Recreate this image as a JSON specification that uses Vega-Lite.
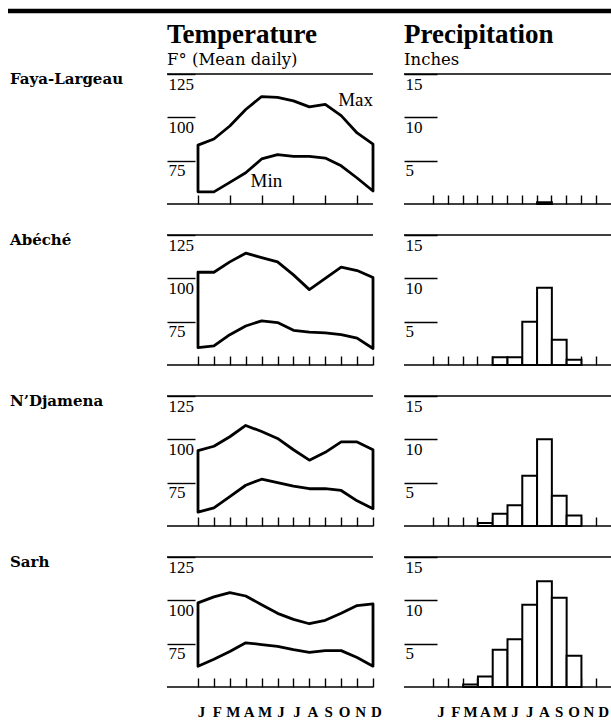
{
  "$schema": "https://vega.github.io/schema/vega-lite/v6.json",
  "padding": {"left": 5, "top": 8, "right": 0, "bottom": 0},
  "background": "white",
  "config": {
    "view": {"stroke": null},
    "font": "Liberation Serif",
    "axis": {"domain": false, "grid": false, "tickColor": "black", "tickWidth": 1.4, "labelColor": "black", "labelFont": "Liberation Serif", "labelFontSize": 17}
  },
  "datasets": {
    "temp": [
      {"station": "Faya-Largeau", "month": 1, "max": 84, "min": 57},
      {"station": "Faya-Largeau", "month": 2, "max": 87.5, "min": 57},
      {"station": "Faya-Largeau", "month": 3, "max": 95, "min": 62.5},
      {"station": "Faya-Largeau", "month": 4, "max": 104.5, "min": 68},
      {"station": "Faya-Largeau", "month": 5, "max": 112, "min": 76},
      {"station": "Faya-Largeau", "month": 6, "max": 111.5, "min": 78.5},
      {"station": "Faya-Largeau", "month": 7, "max": 109.5, "min": 77.5},
      {"station": "Faya-Largeau", "month": 8, "max": 106, "min": 77.5},
      {"station": "Faya-Largeau", "month": 9, "max": 107.5, "min": 76.5},
      {"station": "Faya-Largeau", "month": 10, "max": 101, "min": 72},
      {"station": "Faya-Largeau", "month": 11, "max": 91, "min": 65},
      {"station": "Faya-Largeau", "month": 12, "max": 84.5, "min": 57.5},
      {"station": "Abéché", "month": 1, "max": 103.5, "min": 60},
      {"station": "Abéché", "month": 2, "max": 103.5, "min": 61},
      {"station": "Abéché", "month": 3, "max": 109.5, "min": 67.5},
      {"station": "Abéché", "month": 4, "max": 114.5, "min": 72.5},
      {"station": "Abéché", "month": 5, "max": 112, "min": 75.5},
      {"station": "Abéché", "month": 6, "max": 109.5, "min": 74.5},
      {"station": "Abéché", "month": 7, "max": 102, "min": 70},
      {"station": "Abéché", "month": 8, "max": 93.5, "min": 69},
      {"station": "Abéché", "month": 9, "max": 100, "min": 68.5},
      {"station": "Abéché", "month": 10, "max": 106.5, "min": 67.5},
      {"station": "Abéché", "month": 11, "max": 104.5, "min": 65.5},
      {"station": "Abéché", "month": 12, "max": 100.5, "min": 59.5},
      {"station": "N’Djamena", "month": 1, "max": 93.5, "min": 58},
      {"station": "N’Djamena", "month": 2, "max": 96, "min": 60.5},
      {"station": "N’Djamena", "month": 3, "max": 101.5, "min": 67},
      {"station": "N’Djamena", "month": 4, "max": 108, "min": 73.5},
      {"station": "N’Djamena", "month": 5, "max": 104.5, "min": 77},
      {"station": "N’Djamena", "month": 6, "max": 100.5, "min": 75},
      {"station": "N’Djamena", "month": 7, "max": 94, "min": 73},
      {"station": "N’Djamena", "month": 8, "max": 88, "min": 71.5},
      {"station": "N’Djamena", "month": 9, "max": 92.5, "min": 71.5},
      {"station": "N’Djamena", "month": 10, "max": 98.5, "min": 70.5},
      {"station": "N’Djamena", "month": 11, "max": 98.5, "min": 64.5},
      {"station": "N’Djamena", "month": 12, "max": 94, "min": 60},
      {"station": "Sarh", "month": 1, "max": 98.5, "min": 62},
      {"station": "Sarh", "month": 2, "max": 102, "min": 66},
      {"station": "Sarh", "month": 3, "max": 104.5, "min": 70.5},
      {"station": "Sarh", "month": 4, "max": 102.5, "min": 75.5},
      {"station": "Sarh", "month": 5, "max": 97.5, "min": 74.5},
      {"station": "Sarh", "month": 6, "max": 92.5, "min": 73.5},
      {"station": "Sarh", "month": 7, "max": 89, "min": 71.5},
      {"station": "Sarh", "month": 8, "max": 86.5, "min": 70},
      {"station": "Sarh", "month": 9, "max": 88.5, "min": 71},
      {"station": "Sarh", "month": 10, "max": 92.5, "min": 71},
      {"station": "Sarh", "month": 11, "max": 97, "min": 67},
      {"station": "Sarh", "month": 12, "max": 98, "min": 62}
    ],
    "precip": [
      {"station": "Faya-Largeau", "month": "Aug", "inches": 0.2},
      {"station": "Abéché", "month": "May", "inches": 0.9},
      {"station": "Abéché", "month": "Jun", "inches": 0.9},
      {"station": "Abéché", "month": "Jul", "inches": 5.0},
      {"station": "Abéché", "month": "Aug", "inches": 8.9},
      {"station": "Abéché", "month": "Sep", "inches": 2.9},
      {"station": "Abéché", "month": "Oct", "inches": 0.6},
      {"station": "N’Djamena", "month": "Apr", "inches": 0.35},
      {"station": "N’Djamena", "month": "May", "inches": 1.4},
      {"station": "N’Djamena", "month": "Jun", "inches": 2.4},
      {"station": "N’Djamena", "month": "Jul", "inches": 5.8},
      {"station": "N’Djamena", "month": "Aug", "inches": 10.0},
      {"station": "N’Djamena", "month": "Sep", "inches": 3.5},
      {"station": "N’Djamena", "month": "Oct", "inches": 1.2},
      {"station": "Sarh", "month": "Mar", "inches": 0.3},
      {"station": "Sarh", "month": "Apr", "inches": 1.2},
      {"station": "Sarh", "month": "May", "inches": 4.3},
      {"station": "Sarh", "month": "Jun", "inches": 5.5},
      {"station": "Sarh", "month": "Jul", "inches": 9.5},
      {"station": "Sarh", "month": "Aug", "inches": 12.2},
      {"station": "Sarh", "month": "Sep", "inches": 10.3},
      {"station": "Sarh", "month": "Oct", "inches": 3.6}
    ]
  },
  "spacing": 6,
  "vconcat": [
    {
      "width": 606, "height": 4,
      "data": {"values": [{}]},
      "mark": {"type": "rule", "color": "black", "strokeWidth": 4.5},
      "encoding": {"y": {"datum": 0.5, "type": "quantitative", "scale": {"domain": [0, 1]}, "axis": null}}
    },
    {
      "columns": 3,
      "spacing": {"row": 31, "column": 31},
      "bounds": "flush",
      "concat": [
        {
          "width": 128, "height": 130,
          "data": {"values": [{"station": "Faya-Largeau"}]},
          "mark": {"type": "text", "align": "left", "baseline": "middle", "dx": 2, "font": "DejaVu Serif", "fontWeight": "bold", "fontSize": 15, "color": "black"},
          "encoding": {
            "text": {"field": "station"},
            "x": {"datum": 0, "type": "quantitative", "scale": {"domain": [0, 1]}, "axis": null},
            "y": {"datum": 122.3, "type": "quantitative", "scale": {"domain": [50, 125]}, "axis": null}
          }
        },
        {
          "width": 206, "height": 130,
          "title": {"text": "Temperature", "subtitle": "F° (Mean daily)", "anchor": "start", "frame": "group", "font": "Liberation Serif", "fontSize": 27, "fontWeight": "bold", "color": "black", "subtitleFont": "DejaVu Serif", "subtitleFontSize": 16.5, "subtitleColor": "black", "subtitlePadding": 3, "offset": 4},
          "layer": [
            {
              "data": {"name": "temp"},
              "transform": [{"filter": "datum.station === 'Faya-Largeau'"}],
              "mark": {"type": "area", "fill": "white", "stroke": "black", "strokeWidth": 2.8, "strokeJoin": "round"},
              "encoding": {
                "x": {"field": "month", "type": "quantitative", "scale": {"domain": [-0.949, 12], "nice": false, "zero": false},
                  "axis": {"values": [1,2,3,4,5,6,7,8,9,10,11,12], "tickSize": -9, "labels": false, "title": null}},
                "y": {"field": "max", "type": "quantitative", "scale": {"domain": [50, 125], "nice": false, "zero": false},
                  "axis": {"values": [125, 100, 75], "tickSize": -28, "labelAlign": "left", "labelBaseline": "top", "labelPadding": 27, "labelOffset": 2, "labelFlush": false, "labelOverlap": false, "title": null}},
                "y2": {"field": "min"}
              }
            },
            {"data": {"values": [{}]}, "mark": {"type": "rule", "color": "black", "strokeWidth": 1.5}, "encoding": {"y": {"datum": 125, "type": "quantitative"}}},
            {"data": {"values": [{}]}, "mark": {"type": "rule", "color": "black", "strokeWidth": 1.5}, "encoding": {"y": {"datum": 50, "type": "quantitative"}}},
            {"data": {"values": [{}]}, "mark": {"type": "text", "align": "right", "baseline": "middle", "font": "Liberation Serif", "fontSize": 19, "color": "black"}, "encoding": {"x": {"datum": 12, "type": "quantitative"}, "y": {"datum": 110, "type": "quantitative"}, "text": {"value": "Max"}}},
            {"data": {"values": [{}]}, "mark": {"type": "text", "align": "center", "baseline": "middle", "font": "Liberation Serif", "fontSize": 19, "color": "black"}, "encoding": {"x": {"datum": 5.3, "type": "quantitative"}, "y": {"datum": 63.3, "type": "quantitative"}, "text": {"value": "Min"}}}
          ]
        },
        {
          "width": 207, "height": 130,
          "title": {"text": "Precipitation", "subtitle": "Inches", "anchor": "start", "frame": "group", "font": "Liberation Serif", "fontSize": 27, "fontWeight": "bold", "color": "black", "subtitleFont": "DejaVu Serif", "subtitleFontSize": 16.5, "subtitleColor": "black", "subtitlePadding": 3, "offset": 4},
          "layer": [
            {
              "data": {"name": "precip"},
              "transform": [{"filter": "datum.station === 'Faya-Largeau'"}],
              "mark": {"type": "bar", "fill": "white", "stroke": "black", "strokeWidth": 2},
              "encoding": {
                "x": {"field": "month", "type": "ordinal", "scale": {"domain": ["Jan","Feb","Mar","Apr","May","Jun","Jul","Aug","Sep","Oct","Nov","Dec"], "paddingInner": 0, "paddingOuter": 1.097, "align": 1},
                  "axis": {"bandPosition": 0, "tickSize": -9, "labels": false, "title": null}},
                "y": {"field": "inches", "type": "quantitative", "scale": {"domain": [0, 15], "nice": false},
                  "axis": {"values": [15, 10, 5], "tickSize": -33, "labelAlign": "left", "labelBaseline": "top", "labelPadding": 32, "labelOffset": 2, "labelFlush": false, "labelOverlap": false, "title": null}}
              }
            },
            {"data": {"values": [{}]}, "mark": {"type": "rule", "color": "black", "strokeWidth": 1.5}, "encoding": {"y": {"datum": 15, "type": "quantitative"}}},
            {"data": {"values": [{}]}, "mark": {"type": "rule", "color": "black", "strokeWidth": 1.5}, "encoding": {"y": {"datum": 0, "type": "quantitative"}}}
          ]
        },
        {
          "width": 128, "height": 130,
          "data": {"values": [{"station": "Abéché"}]},
          "mark": {"type": "text", "align": "left", "baseline": "middle", "dx": 2, "font": "DejaVu Serif", "fontWeight": "bold", "fontSize": 15, "color": "black"},
          "encoding": {
            "text": {"field": "station"},
            "x": {"datum": 0, "type": "quantitative", "scale": {"domain": [0, 1]}, "axis": null},
            "y": {"datum": 122.3, "type": "quantitative", "scale": {"domain": [50, 125]}, "axis": null}
          }
        },
        {
          "width": 206, "height": 130,
          "layer": [
            {
              "data": {"name": "temp"},
              "transform": [{"filter": "datum.station === 'Abéché'"}],
              "mark": {"type": "area", "fill": "white", "stroke": "black", "strokeWidth": 2.8, "strokeJoin": "round"},
              "encoding": {
                "x": {"field": "month", "type": "quantitative", "scale": {"domain": [-0.949, 12], "nice": false, "zero": false},
                  "axis": {"values": [1,2,3,4,5,6,7,8,9,10,11,12], "tickSize": -9, "labels": false, "title": null}},
                "y": {"field": "max", "type": "quantitative", "scale": {"domain": [50, 125], "nice": false, "zero": false},
                  "axis": {"values": [125, 100, 75], "tickSize": -28, "labelAlign": "left", "labelBaseline": "top", "labelPadding": 27, "labelOffset": 2, "labelFlush": false, "labelOverlap": false, "title": null}},
                "y2": {"field": "min"}
              }
            },
            {"data": {"values": [{}]}, "mark": {"type": "rule", "color": "black", "strokeWidth": 1.5}, "encoding": {"y": {"datum": 125, "type": "quantitative"}}},
            {"data": {"values": [{}]}, "mark": {"type": "rule", "color": "black", "strokeWidth": 1.5}, "encoding": {"y": {"datum": 50, "type": "quantitative"}}}
          ]
        },
        {
          "width": 207, "height": 130,
          "layer": [
            {
              "data": {"name": "precip"},
              "transform": [{"filter": "datum.station === 'Abéché'"}],
              "mark": {"type": "bar", "fill": "white", "stroke": "black", "strokeWidth": 2},
              "encoding": {
                "x": {"field": "month", "type": "ordinal", "scale": {"domain": ["Jan","Feb","Mar","Apr","May","Jun","Jul","Aug","Sep","Oct","Nov","Dec"], "paddingInner": 0, "paddingOuter": 1.097, "align": 1},
                  "axis": {"bandPosition": 0, "tickSize": -9, "labels": false, "title": null}},
                "y": {"field": "inches", "type": "quantitative", "scale": {"domain": [0, 15], "nice": false},
                  "axis": {"values": [15, 10, 5], "tickSize": -33, "labelAlign": "left", "labelBaseline": "top", "labelPadding": 32, "labelOffset": 2, "labelFlush": false, "labelOverlap": false, "title": null}}
              }
            },
            {"data": {"values": [{}]}, "mark": {"type": "rule", "color": "black", "strokeWidth": 1.5}, "encoding": {"y": {"datum": 15, "type": "quantitative"}}},
            {"data": {"values": [{}]}, "mark": {"type": "rule", "color": "black", "strokeWidth": 1.5}, "encoding": {"y": {"datum": 0, "type": "quantitative"}}}
          ]
        },
        {
          "width": 128, "height": 130,
          "data": {"values": [{"station": "N’Djamena"}]},
          "mark": {"type": "text", "align": "left", "baseline": "middle", "dx": 2, "font": "DejaVu Serif", "fontWeight": "bold", "fontSize": 15, "color": "black"},
          "encoding": {
            "text": {"field": "station"},
            "x": {"datum": 0, "type": "quantitative", "scale": {"domain": [0, 1]}, "axis": null},
            "y": {"datum": 122.3, "type": "quantitative", "scale": {"domain": [50, 125]}, "axis": null}
          }
        },
        {
          "width": 206, "height": 130,
          "layer": [
            {
              "data": {"name": "temp"},
              "transform": [{"filter": "datum.station === 'N’Djamena'"}],
              "mark": {"type": "area", "fill": "white", "stroke": "black", "strokeWidth": 2.8, "strokeJoin": "round"},
              "encoding": {
                "x": {"field": "month", "type": "quantitative", "scale": {"domain": [-0.949, 12], "nice": false, "zero": false},
                  "axis": {"values": [1,2,3,4,5,6,7,8,9,10,11,12], "tickSize": -9, "labels": false, "title": null}},
                "y": {"field": "max", "type": "quantitative", "scale": {"domain": [50, 125], "nice": false, "zero": false},
                  "axis": {"values": [125, 100, 75], "tickSize": -28, "labelAlign": "left", "labelBaseline": "top", "labelPadding": 27, "labelOffset": 2, "labelFlush": false, "labelOverlap": false, "title": null}},
                "y2": {"field": "min"}
              }
            },
            {"data": {"values": [{}]}, "mark": {"type": "rule", "color": "black", "strokeWidth": 1.5}, "encoding": {"y": {"datum": 125, "type": "quantitative"}}},
            {"data": {"values": [{}]}, "mark": {"type": "rule", "color": "black", "strokeWidth": 1.5}, "encoding": {"y": {"datum": 50, "type": "quantitative"}}}
          ]
        },
        {
          "width": 207, "height": 130,
          "layer": [
            {
              "data": {"name": "precip"},
              "transform": [{"filter": "datum.station === 'N’Djamena'"}],
              "mark": {"type": "bar", "fill": "white", "stroke": "black", "strokeWidth": 2},
              "encoding": {
                "x": {"field": "month", "type": "ordinal", "scale": {"domain": ["Jan","Feb","Mar","Apr","May","Jun","Jul","Aug","Sep","Oct","Nov","Dec"], "paddingInner": 0, "paddingOuter": 1.097, "align": 1},
                  "axis": {"bandPosition": 0, "tickSize": -9, "labels": false, "title": null}},
                "y": {"field": "inches", "type": "quantitative", "scale": {"domain": [0, 15], "nice": false},
                  "axis": {"values": [15, 10, 5], "tickSize": -33, "labelAlign": "left", "labelBaseline": "top", "labelPadding": 32, "labelOffset": 2, "labelFlush": false, "labelOverlap": false, "title": null}}
              }
            },
            {"data": {"values": [{}]}, "mark": {"type": "rule", "color": "black", "strokeWidth": 1.5}, "encoding": {"y": {"datum": 15, "type": "quantitative"}}},
            {"data": {"values": [{}]}, "mark": {"type": "rule", "color": "black", "strokeWidth": 1.5}, "encoding": {"y": {"datum": 0, "type": "quantitative"}}}
          ]
        },
        {
          "width": 128, "height": 130,
          "data": {"values": [{"station": "Sarh"}]},
          "mark": {"type": "text", "align": "left", "baseline": "middle", "dx": 2, "font": "DejaVu Serif", "fontWeight": "bold", "fontSize": 15, "color": "black"},
          "encoding": {
            "text": {"field": "station"},
            "x": {"datum": 0, "type": "quantitative", "scale": {"domain": [0, 1]}, "axis": null},
            "y": {"datum": 122.3, "type": "quantitative", "scale": {"domain": [50, 125]}, "axis": null}
          }
        },
        {
          "width": 206, "height": 130,
          "layer": [
            {
              "data": {"name": "temp"},
              "transform": [{"filter": "datum.station === 'Sarh'"}],
              "mark": {"type": "area", "fill": "white", "stroke": "black", "strokeWidth": 2.8, "strokeJoin": "round"},
              "encoding": {
                "x": {"field": "month", "type": "quantitative", "scale": {"domain": [-0.949, 12], "nice": false, "zero": false},
                  "axis": {"values": [1,2,3,4,5,6,7,8,9,10,11,12], "tickSize": -9, "labels": true, "labelExpr": "['J','F','M','A','M','J','J','A','S','O','N','D'][datum.value - 1]", "labelFont": "Liberation Serif", "labelFontWeight": "bold", "labelFontSize": 15, "labelBaseline": "top", "labelPadding": 26, "labelOffset": 3, "labelFlush": false, "labelOverlap": false, "title": null}},
                "y": {"field": "max", "type": "quantitative", "scale": {"domain": [50, 125], "nice": false, "zero": false},
                  "axis": {"values": [125, 100, 75], "tickSize": -28, "labelAlign": "left", "labelBaseline": "top", "labelPadding": 27, "labelOffset": 2, "labelFlush": false, "labelOverlap": false, "title": null}},
                "y2": {"field": "min"}
              }
            },
            {"data": {"values": [{}]}, "mark": {"type": "rule", "color": "black", "strokeWidth": 1.5}, "encoding": {"y": {"datum": 125, "type": "quantitative"}}},
            {"data": {"values": [{}]}, "mark": {"type": "rule", "color": "black", "strokeWidth": 1.5}, "encoding": {"y": {"datum": 50, "type": "quantitative"}}}
          ]
        },
        {
          "width": 207, "height": 130,
          "layer": [
            {
              "data": {"name": "precip"},
              "transform": [{"filter": "datum.station === 'Sarh'"}],
              "mark": {"type": "bar", "fill": "white", "stroke": "black", "strokeWidth": 2},
              "encoding": {
                "x": {"field": "month", "type": "ordinal", "scale": {"domain": ["Jan","Feb","Mar","Apr","May","Jun","Jul","Aug","Sep","Oct","Nov","Dec"], "paddingInner": 0, "paddingOuter": 1.097, "align": 1},
                  "axis": {"bandPosition": 0, "tickSize": -9, "labels": true, "labelExpr": "substring(datum.label, 0, 1)", "labelAngle": 0, "labelFont": "Liberation Serif", "labelFontWeight": "bold", "labelFontSize": 15, "labelBaseline": "top", "labelPadding": 26, "labelOffset": 0, "labelFlush": false, "labelOverlap": false, "title": null}},
                "y": {"field": "inches", "type": "quantitative", "scale": {"domain": [0, 15], "nice": false},
                  "axis": {"values": [15, 10, 5], "tickSize": -33, "labelAlign": "left", "labelBaseline": "top", "labelPadding": 32, "labelOffset": 2, "labelFlush": false, "labelOverlap": false, "title": null}}
              }
            },
            {"data": {"values": [{}]}, "mark": {"type": "rule", "color": "black", "strokeWidth": 1.5}, "encoding": {"y": {"datum": 15, "type": "quantitative"}}},
            {"data": {"values": [{}]}, "mark": {"type": "rule", "color": "black", "strokeWidth": 1.5}, "encoding": {"y": {"datum": 0, "type": "quantitative"}}}
          ]
        }
      ]
    }
  ]
}
